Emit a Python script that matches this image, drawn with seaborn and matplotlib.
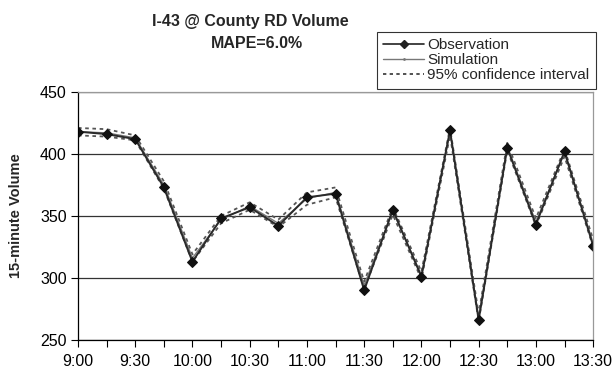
import matplotlib
matplotlib.use("Agg")
import matplotlib.pyplot as plt
import seaborn as sns
import pandas as pd
from matplotlib.lines import Line2D

sns.set_theme(style="white")
plt.rcParams["font.family"] = ["Liberation Sans", "DejaVu Sans"]

# 15-minute intervals from 9:00 to 13:30
minutes = [0, 15, 30, 45, 60, 75, 90, 105, 120, 135, 150, 165, 180, 195, 210, 225, 240, 255, 270]
observation = [418, 416, 412, 373, 313, 348, 357, 342, 365, 368, 290, 355, 301, 419, 266, 405, 343, 402, 326]
simulation = [418, 417, 413, 375, 316, 347, 358, 344, 364, 369, 294, 354, 302, 418, 268, 406, 345, 401, 328]
ci_upper = [421, 420, 415, 378, 319, 350, 361, 347, 369, 373, 297, 357, 305, 421, 271, 409, 348, 404, 331]
ci_lower = [415, 414, 411, 372, 313, 344, 355, 341, 359, 365, 291, 351, 299, 415, 265, 403, 342, 398, 325]
tick_minutes = [0, 30, 60, 90, 120, 150, 180, 210, 240, 270]
tick_labels = ["9:00", "9:30", "10:00", "10:30", "11:00", "11:30", "12:00", "12:30", "13:00", "13:30"]

df = pd.DataFrame({"t": minutes, "obs": observation, "sim": simulation,
                   "hi": ci_upper, "lo": ci_lower})

fig = plt.figure(figsize=(6.14, 3.71), dpi=100)
ax = fig.add_axes([0.127, 0.084, 0.839, 0.668])

for col in ["hi", "lo"]:
    sns.lineplot(data=df, x="t", y=col, ax=ax, color="#555555", lw=1.3,
                 linestyle=(0, (2, 2)), legend=False)
sns.lineplot(data=df, x="t", y="sim", ax=ax, color="#777777", lw=1.0, legend=False)
sns.lineplot(data=df, x="t", y="obs", ax=ax, color="#2a2a2a", lw=1.4,
             marker="D", markersize=5, markeredgecolor="#111111",
             markerfacecolor="#111111", legend=False)

ax.set_xlim(0, 270)
ax.set_ylim(250, 450)
ax.set_yticks([250, 300, 350, 400, 450])
ax.set_xticks(tick_minutes)
ax.set_xticklabels(tick_labels)
ax.set_xticks(minutes, minor=True)
ax.tick_params(axis="both", which="both", direction="out", labelsize=11.5, colors="black")
ax.tick_params(axis="x", which="both", length=5, width=0.8, bottom=True, pad=5)
ax.tick_params(axis="y", length=5, width=0.8, left=True, pad=3)
ax.yaxis.grid(True, color="#333333", lw=0.9)
ax.set_axisbelow(True)
ax.set_xlabel("")
ax.set_ylabel("15-minute Volume", fontsize=10.5, fontweight="bold", labelpad=12)

for side in ["left", "bottom"]:
    ax.spines[side].set_color("black")
    ax.spines[side].set_linewidth(0.9)
for side in ["right", "top"]:
    ax.spines[side].set_color("#999999")
    ax.spines[side].set_linewidth(0.9)

fig.text(0.408, 0.941, "I-43 @ County RD Volume", ha="center", va="center",
         fontsize=11.5, fontweight="bold")
fig.text(0.418, 0.884, "MAPE=6.0%", ha="center", va="center",
         fontsize=11.5, fontweight="bold")

handles = [
    Line2D([], [], color="#222222", lw=1.2, marker="D", markersize=4),
    Line2D([], [], color="#777777", lw=1.0, marker=".", markersize=2),
    Line2D([], [], color="#333333", lw=1.2, linestyle=(0, (2, 2))),
]
leg = fig.legend(handles, ["Observation", "Simulation", "95% confidence interval"],
                 loc="upper left", bbox_to_anchor=(0.614, 0.914), fontsize=11,
                 frameon=True, fancybox=False, handlelength=2.7, handletextpad=0.2,
                 borderpad=0.4, labelspacing=0.08, borderaxespad=0)
leg.get_frame().set_edgecolor("black")
leg.get_frame().set_linewidth(0.8)

fig.savefig("out.png", dpi=100)
